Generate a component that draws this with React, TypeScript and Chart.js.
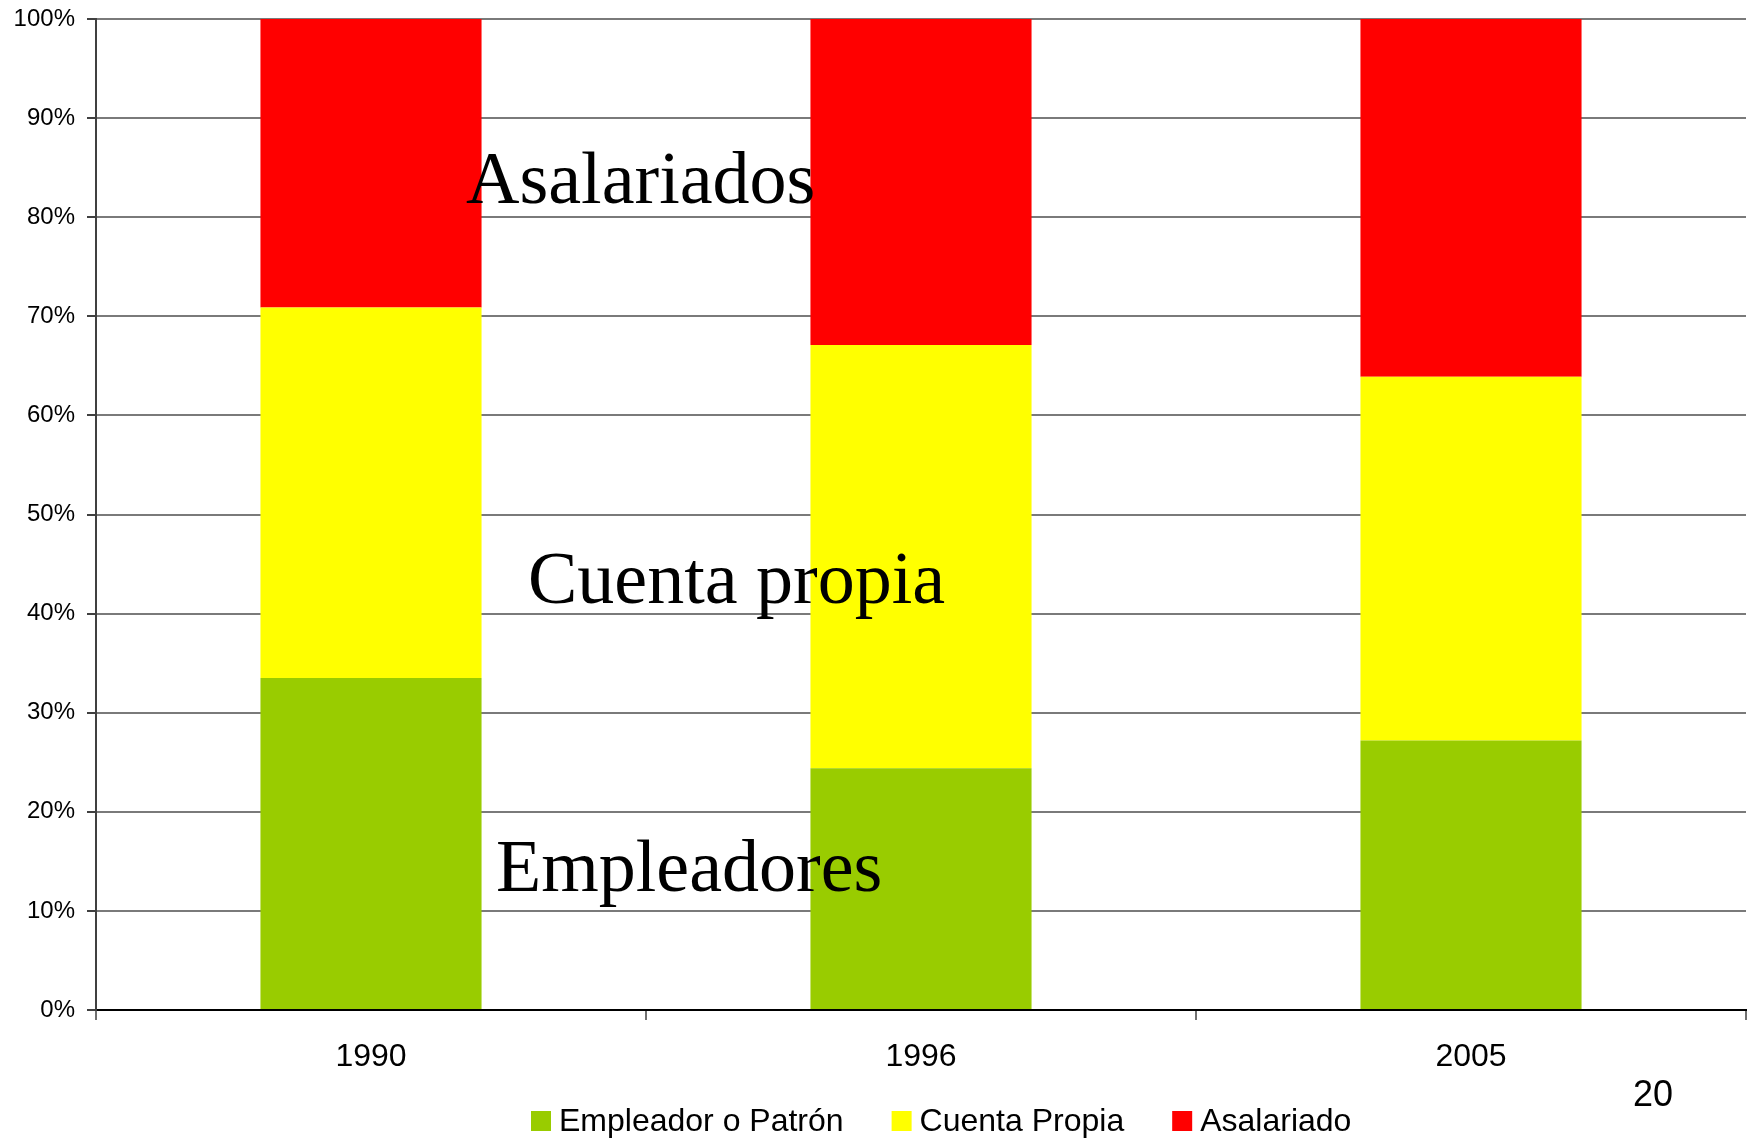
import React, { useEffect, useRef } from "react";
import { Chart, registerables } from "chart.js";

Chart.register(...registerables);

const categories = ["1990", "1996", "2005"];
const empleadorValues = [33.5, 24.4, 27.2];
const cuentaPropiaValues = [37.4, 42.7, 36.7];
const asalariadoValues = [29.1, 32.9, 36.1];
const seriesNames = ["Empleador o Patrón", "Cuenta Propia", "Asalariado"];
const seriesColors = ["#99CC00", "#FFFF00", "#FF0000"];
const annotationTexts = ["Asalariados", "Cuenta propia", "Empleadores"];
const pageNumber = "20";

const SANS = '"Liberation Sans", Arial, Helvetica, sans-serif';
const SERIF = '"Liberation Serif", "Times New Roman", Times, serif';

// Legend drawn from the chart's own dataset labels and colours.
const bottomLegend = {
  id: "bottomLegend",
  afterDraw(chart: any) {
    const { ctx } = chart;
    const fontSize = 32;
    const box = 20;
    const gapAfterBox = 8;
    const itemGap = 48;
    const cy = 1121;
    let x = 531;
    ctx.save();
    ctx.font = `${fontSize}px ${SANS}`;
    ctx.textAlign = "left";
    ctx.textBaseline = "middle";
    chart.data.datasets.forEach((ds: any) => {
      ctx.fillStyle = ds.backgroundColor;
      ctx.fillRect(x, cy - box / 2, box, box);
      ctx.fillStyle = "#000";
      const tx = x + box + gapAfterBox;
      ctx.fillText(ds.label, tx, cy + 1);
      x = tx + ctx.measureText(ds.label).width + itemGap;
    });
    ctx.restore();
  },
};

const overlayText = {
  id: "overlayText",
  afterDatasetsDraw(chart: any) {
    const { ctx, chartArea } = chart;
    const L = chartArea.left;
    const T = chartArea.top;
    ctx.save();
    ctx.fillStyle = "#000";
    ctx.textAlign = "left";
    ctx.textBaseline = "alphabetic";
    ctx.font = `74px ${SERIF}`;
    const pos = [
      [466 - 96, 203 - 19],
      [528 - 96, 603 - 19],
      [496 - 96, 891 - 19],
    ];
    annotationTexts.forEach((t, i) => {
      ctx.fillText(t, L + pos[i][0], T + pos[i][1]);
    });
    ctx.restore();
  },
  afterDraw(chart: any) {
    const { ctx } = chart;
    ctx.save();
    ctx.fillStyle = "#000";
    ctx.textAlign = "center";
    ctx.textBaseline = "middle";
    ctx.font = `36px ${SANS}`;
    ctx.fillText(pageNumber, 1653, 1096);
    ctx.restore();
  },
};

export default function App() {
  const ref = useRef<HTMLCanvasElement | null>(null);

  useEffect(() => {
    const canvas = ref.current;
    if (!canvas) return;
    Chart.defaults.font.family = SANS;
    Chart.defaults.color = "#000";

    const chart = new Chart(canvas, {
      type: "bar",
      data: {
        labels: categories,
        datasets: [
          { label: seriesNames[0], data: empleadorValues, backgroundColor: seriesColors[0], borderWidth: 0 },
          { label: seriesNames[1], data: cuentaPropiaValues, backgroundColor: seriesColors[1], borderWidth: 0 },
          { label: seriesNames[2], data: asalariadoValues, backgroundColor: seriesColors[2], borderWidth: 0 },
        ],
      },
      options: {
        responsive: false,
        animation: false,
        devicePixelRatio: 1,
        layout: { padding: { top: 19, right: 2, left: 0, bottom: 48 } },
        datasets: { bar: { barPercentage: 0.402, categoryPercentage: 1 } },
        scales: {
          x: {
            stacked: true,
            offset: true,
            afterFit: (s: any) => {
              s.height = 80;
            },
            grid: {
              offset: true,
              drawOnChartArea: true,
              drawTicks: true,
              tickLength: 10,
              lineWidth: 2,
              color: (c: any) => (c.index === 3 ? "#808080" : "rgba(0,0,0,0)"),
              tickColor: "#404040",
              tickWidth: 1.5,
            },
            border: { display: true, color: "#000", width: 2 },
            ticks: {
              font: { size: 32, family: SANS },
              color: "#000",
              padding: 18,
              maxRotation: 0,
            },
          },
          y: {
            stacked: true,
            min: 0,
            max: 100,
            afterFit: (s: any) => {
              s.width = 96;
              s.paddingTop = 0;
              s.paddingBottom = 0;
            },
            grid: {
              drawTicks: true,
              tickLength: 9,
              lineWidth: 2,
              color: "#7a7a7a",
              tickColor: "#404040",
            },
            border: { display: true, color: "#404040", width: 2 },
            ticks: {
              stepSize: 10,
              font: { size: 24, family: SANS },
              color: "#000",
              padding: 12,
              callback: (v: any) => `${v}%`,
            },
          },
        },
        plugins: {
          legend: { display: false },
          tooltip: { enabled: false },
        },
      },
      plugins: [bottomLegend, overlayText],
    } as any);
    return () => chart.destroy();
  }, []);

  return (
    <canvas
      ref={ref}
      width={1748}
      height={1138}
      style={{ position: "absolute", left: 0, top: 0, display: "block" }}
    />
  );
}
